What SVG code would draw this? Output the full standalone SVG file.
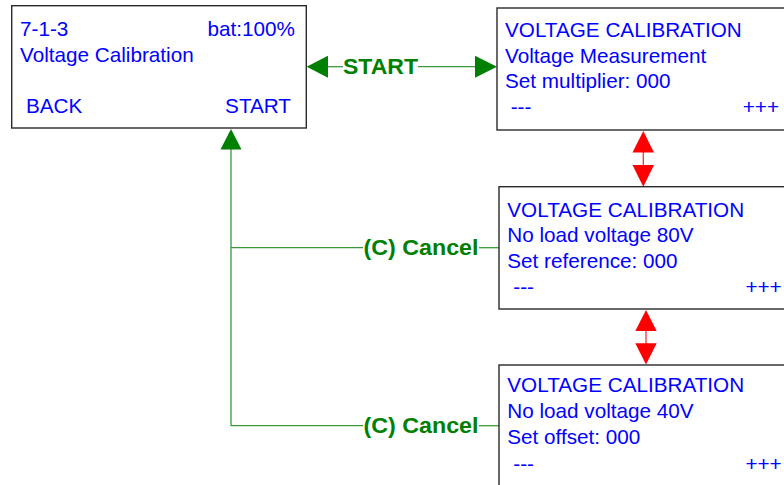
<svg xmlns="http://www.w3.org/2000/svg" width="784" height="485" viewBox="0 0 784 485">
<style>
.box{fill:#fff;stroke:#2a2a2a;stroke-width:1.4}
.t{font-family:"Liberation Sans",Arial,sans-serif;font-size:20.7px;fill:#0000ff}
.lbl{font-family:"Liberation Sans",Arial,sans-serif;font-size:22px;font-weight:bold;fill:#008000}
.g{stroke:#3a9a3a;stroke-width:1.3;fill:none}
.r{stroke:#ff3030;stroke-width:1.3;fill:none}
.gh{fill:#008000}
.rh{fill:#ff0000}
</style>
<rect width="784" height="485" fill="#fff"/>
<g id="connectors">
  <line class="g" x1="327" y1="66.7" x2="343" y2="66.7"/>
  <line class="g" x1="418" y1="66.7" x2="476" y2="66.7"/>
  <polygon class="gh" points="306.7,66.7 328,55.7 328,77.7"/>
  <polygon class="gh" points="497,66.7 475,55.7 475,77.7"/>
  <line class="g" x1="231" y1="148" x2="231" y2="426"/>
  <polygon class="gh" points="231,129 220.5,149.5 241.5,149.5"/>
  <line class="g" x1="231" y1="247.7" x2="363" y2="247.7"/>
  <line class="g" x1="479" y1="247.7" x2="499" y2="247.7"/>
  <line class="g" x1="231" y1="425.7" x2="363" y2="425.7"/>
  <line class="g" x1="479" y1="425.7" x2="499" y2="425.7"/>
  <line class="r" x1="643.3" y1="151" x2="643.3" y2="166"/>
  <polygon class="rh" points="643.3,131 632.5,152.5 654,152.5"/>
  <polygon class="rh" points="643.3,186.7 632.5,165 654,165"/>
  <line class="r" x1="646" y1="330" x2="646" y2="344"/>
  <polygon class="rh" points="646,310 635.3,331 656.7,331"/>
  <polygon class="rh" points="646,364.5 635.3,343.3 656.7,343.3"/>
  <text class="lbl" x="343" y="74" textLength="75" lengthAdjust="spacingAndGlyphs">START</text>
  <text class="lbl" x="363.5" y="255.3" textLength="115" lengthAdjust="spacingAndGlyphs">(C) Cancel</text>
  <text class="lbl" x="363.5" y="433.3" textLength="115" lengthAdjust="spacingAndGlyphs">(C) Cancel</text>
</g>
<g id="node-main">
  <rect class="box" x="11.7" y="5.7" width="294.6" height="122.3"/>
  <text class="t" x="20" y="36">7-1-3</text>
  <text class="t" x="295" y="36" text-anchor="end">bat:100%</text>
  <text class="t" x="20" y="62">Voltage Calibration</text>
  <text class="t" x="26" y="113">BACK</text>
  <text class="t" x="291" y="113" text-anchor="end">START</text>
</g>
<g id="node-measure">
  <rect class="box" x="497" y="8" width="300" height="122"/>
  <text class="t" x="505" y="37">VOLTAGE CALIBRATION</text>
  <text class="t" x="505" y="62.7">Voltage Measurement</text>
  <text class="t" x="505" y="88.3">Set multiplier: 000</text>
  <text class="t" x="510.7" y="114">---</text>
  <text class="t" x="779" y="114" text-anchor="end">+++</text>
</g>
<g id="node-80v">
  <rect class="box" x="499" y="186.7" width="300" height="122.3"/>
  <text class="t" x="507.3" y="216.7">VOLTAGE CALIBRATION</text>
  <text class="t" x="507.3" y="242.3">No load voltage 80V</text>
  <text class="t" x="507.3" y="267.7">Set reference: 000</text>
  <text class="t" x="513.3" y="294">---</text>
  <text class="t" x="781.7" y="294" text-anchor="end">+++</text>
</g>
<g id="node-40v">
  <rect class="box" x="499" y="365" width="300" height="130"/>
  <text class="t" x="507.3" y="392.3">VOLTAGE CALIBRATION</text>
  <text class="t" x="507.3" y="418.3">No load voltage 40V</text>
  <text class="t" x="507.3" y="444">Set offset: 000</text>
  <text class="t" x="513.3" y="471">---</text>
  <text class="t" x="781.7" y="471" text-anchor="end">+++</text>
</g>
</svg>
